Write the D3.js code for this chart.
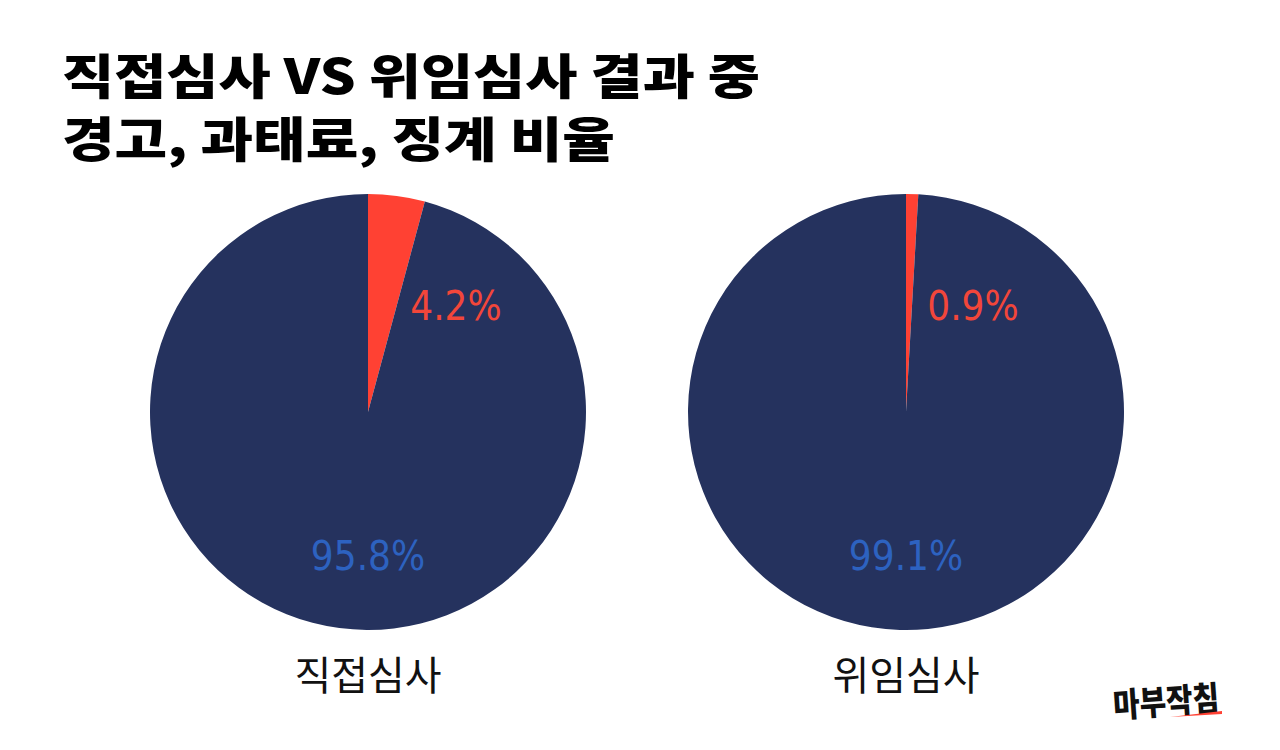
<!DOCTYPE html><html><head><meta charset="utf-8"><script src="https://cdn.jsdelivr.net/npm/d3@7"></script>
<style>body{margin:0;background:#fff}</style></head><body><svg id="c" width="1280" height="750"></svg><script>
const categories=["직접심사","위임심사"];
const penaltyShare=[4.2,0.9];
const otherShare=[95.8,99.1];
const svg=d3.select("#c");
const font="'Noto Sans CJK KR','Noto Sans',sans-serif";
svg.append("text").attr("x",62).attr("y",94).attr("font-family",font).attr("font-weight",900).attr("font-size",48).attr("textLength",698).attr("lengthAdjust","spacingAndGlyphs").attr("fill","#000").text("직접심사 VS 위임심사 결과 중");
svg.append("text").attr("x",62).attr("y",157).attr("font-family",font).attr("font-weight",900).attr("font-size",48).attr("textLength",553).attr("lengthAdjust","spacingAndGlyphs").attr("fill","#000").text("경고, 과태료, 징계 비율");
const x=d3.scalePoint().domain(categories).range([368,906]);
const cy=412,r=218;
const pie=d3.pie().sort(null).value(d=>d);
const arc=d3.arc().innerRadius(0).outerRadius(r);
const colors=["#ff4133","#25325e"];
categories.forEach((c,i)=>{
  const g=svg.append("g").attr("transform",`translate(${x(c)},${cy})`);
  g.selectAll("path").data(pie([penaltyShare[i],otherShare[i]])).join("path").attr("d",arc).attr("fill",(d,j)=>colors[j]);
  g.append("text").attr("x",i==0?88:67).attr("y",-92).attr("text-anchor","middle").attr("font-family","'DejaVu Sans Condensed',sans-serif").attr("font-size",40).attr("fill","#f2463a").text(penaltyShare[i]+"%");
  g.append("text").attr("x",i==0?0:0).attr("y",158).attr("text-anchor","middle").attr("font-family","'DejaVu Sans Condensed',sans-serif").attr("font-size",40).attr("fill","#2d62c0").text(otherShare[i]+"%");
  svg.append("text").attr("x",x(c)).attr("y",690).attr("text-anchor","middle").attr("font-family",font).attr("font-size",40).attr("fill","#111").text(c);
});
svg.append("text").attr("x",1166).attr("y",714).attr("text-anchor","middle").attr("font-family",font).attr("font-weight",900).attr("font-size",34).attr("textLength",106).attr("lengthAdjust","spacingAndGlyphs").attr("fill","#111").attr("transform","rotate(-4,1166,700)").text("마부작침");
svg.append("path").attr("d","M1170,717 L1222,711 L1222,714 Z").attr("fill","#ff4133");
</script></body></html>
